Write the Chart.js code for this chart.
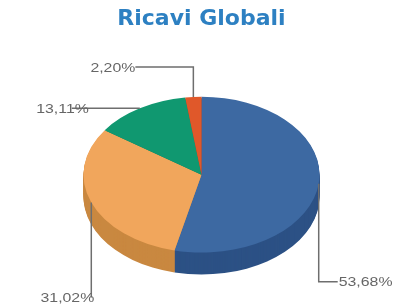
<!DOCTYPE html>
<html>
<head>
<meta charset="utf-8">
<script src="https://cdn.jsdelivr.net/npm/chart.js@4"></script>
<style>
  html, body { margin: 0; padding: 0; background: #fff; }
  #wrap { width: 403px; height: 307px; }
</style>
</head>
<body>
<div id="wrap"><canvas id="pieChart" width="403" height="307"></canvas></div>
<script>
/*
==================================
    Data
==================================
*/
var categories = ['A', 'B', 'C', 'D'];
var shares = [53.68, 31.02, 13.11, 2.20];
var topColors = ['#3d69a2', '#f1a65c', '#109870', '#e0582a'];
var sideColors = ['#2c5185', '#c98840', '#0b7656', '#b24420'];

/*
==================================
    3D look settings
==================================
*/
var tilt = 0.66;     // vertical squash of the pie
var depth = 22;      // thickness in px
// leader line per slice: vertical run, horizontal run, text side, text overlap
var leaders = [
    { dy: 98, dx: 19, side: 'left', overlap: 1 },
    { dy: 95, dx: 0, side: 'right', overlap: -3 },
    { dy: 0, dx: -68, side: 'right', overlap: -17 },
    { dy: -30, dx: -58, side: 'right', overlap: 0 }
];

function fmt(v) {
    return v.toFixed(2).replace('.', ',') + '%';
}

var pie3d = {
    id: 'pie3d',
    beforeDatasetsDraw: function(chart) {
        var ctx = chart.ctx;
        var arcs = chart.getDatasetMeta(0).data;
        var cx = arcs[0].x, cy = arcs[0].y;
        ctx.save();
        ctx.translate(cx, cy);
        ctx.scale(1, tilt);
        ctx.translate(-cx, -cy);
        // side walls, drawn from the bottom up
        for (var d = depth; d >= 1; d--) {
            arcs.forEach(function(a, i) {
                ctx.beginPath();
                ctx.moveTo(a.x, a.y + d / tilt);
                ctx.arc(a.x, a.y + d / tilt, a.outerRadius, a.startAngle, a.endAngle);
                ctx.closePath();
                ctx.fillStyle = sideColors[i];
                ctx.fill();
            });
        }
    },
    afterDatasetsDraw: function(chart) {
        var ctx = chart.ctx;
        ctx.restore();
        var arcs = chart.getDatasetMeta(0).data;
        ctx.save();
        ctx.strokeStyle = '#6e6e6e';
        ctx.lineWidth = 1.5;
        ctx.fillStyle = '#666666';
        ctx.font = '13px "Liberation Sans", Arial, sans-serif';
        ctx.textBaseline = 'middle';
        arcs.forEach(function(a, i) {
            var mid = (a.startAngle + a.endAngle) / 2;
            var x0 = a.x + a.outerRadius * Math.cos(mid);
            var y0 = a.y + a.outerRadius * tilt * Math.sin(mid);
            var L = leaders[i];
            var y1 = y0 + L.dy, x1 = x0 + L.dx;
            ctx.beginPath();
            ctx.moveTo(x0, y0);
            ctx.lineTo(x0, y1);
            ctx.lineTo(x1, y1);
            ctx.stroke();
            var txt = fmt(shares[i]);
            var w = ctx.measureText(txt).width * 1.22;
            var tx = L.side === 'left' ? x1 + L.overlap : x1 - L.overlap - w;
            ctx.save();
            ctx.translate(tx, y1 + 1);
            ctx.scale(1.22, 1);
            ctx.fillText(txt, 0, 0);
            ctx.restore();
        });
        ctx.restore();
    }
};

var ctx = document.getElementById('pieChart');
var pieChart = new Chart(ctx, {
    type: 'pie',
    data: {
        labels: categories,
        datasets: [{
            data: shares,
            backgroundColor: topColors,
            borderWidth: 0,
            radius: 118
        }]
    },
    options: {
        responsive: false,
        devicePixelRatio: 1,
        animation: false,
        rotation: 0,
        layout: { padding: { bottom: 0 } },
        plugins: {
            legend: { display: false },
            tooltip: { enabled: false },
            title: {
                display: true,
                text: 'Ricavi Globali',
                color: '#2d80c2',
                font: { family: 'DejaVu Sans', size: 22, weight: 'bold' },
                padding: { top: 6, bottom: 10 }
            }
        }
    },
    plugins: [pie3d]
});
</script>
</body>
</html>
